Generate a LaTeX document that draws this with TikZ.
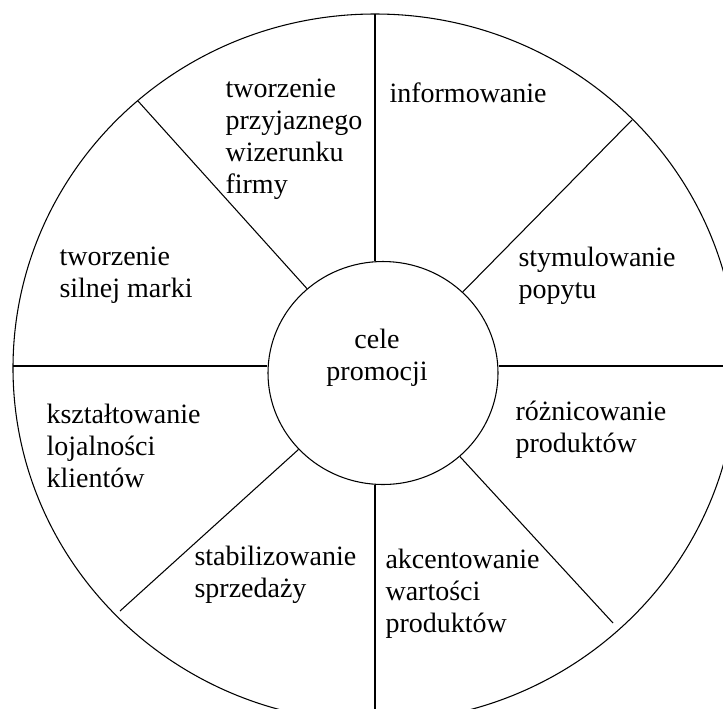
\documentclass[tikz,border=0pt]{standalone}
\usepackage{fontspec}
\setmainfont{Liberation Serif}
\usetikzlibrary{shapes.geometric}

\begin{document}
\begin{tikzpicture}[
    x=0.75pt, y=-0.75pt,
    line width=0.8pt,
    every node/.style={font=\fontsize{21}{24}\selectfont},
    hub/.style={ellipse, draw, minimum width=172.5pt, minimum height=167.25pt, inner sep=0pt},
    goal/.style={anchor=base west, align=left, inner sep=0pt}
]
    \useasboundingbox (0,0) rectangle (723,708);
    \clip (0,0) rectangle (723,708);

    % kolo zewnetrzne i srodek
    \draw (375,368) ellipse [x radius=362, y radius=354];
    \node[hub] (centre) at (383,373) {};
    \node[align=center, inner sep=0pt, anchor=base] (title) at (377,380) {cele\\promocji};

    % konce szprych na obwodzie
    \coordinate (top) at (375,14);
    \coordinate (bottom) at (375,722);
    \coordinate (left) at (13,366);
    \coordinate (right) at (737,366);
    \coordinate (ul) at (138,101);
    \coordinate (ur) at (632,120);
    \coordinate (ll) at (120,611);
    \coordinate (lr) at (613,623);

    % szprychy
    \draw (top) -- (top |- centre.north);
    \draw (bottom) -- (bottom |- centre.south);
    \draw (left) -- (left -| centre.west);
    \draw (right) -- (right -| centre.east);
    \draw (centre) -- (ul);
    \draw (centre) -- (ur);
    \draw (centre) -- (ll);
    \draw (centre) -- (lr);

    % cele (punkt = linia bazowa ostatniego wiersza)
    \node[goal] (firm) at (225,193) {tworzenie\\przyjaznego\\wizerunku\\firmy};
    \node[goal] (info) at (389,102) {informowanie};
    \node[goal] (brand) at (59,297) {tworzenie\\silnej marki};
    \node[goal] (demand) at (518,298) {stymulowanie\\popytu};
    \node[goal] (loyal) at (46,487) {kształtowanie\\lojalności\\klientów};
    \node[goal] (diff) at (515,452) {różnicowanie\\produktów};
    \node[goal] (sales) at (194,597) {stabilizowanie\\sprzedaży};
    \node[goal] (value) at (385,632) {akcentowanie\\wartości\\produktów};
\end{tikzpicture}
\end{document}
